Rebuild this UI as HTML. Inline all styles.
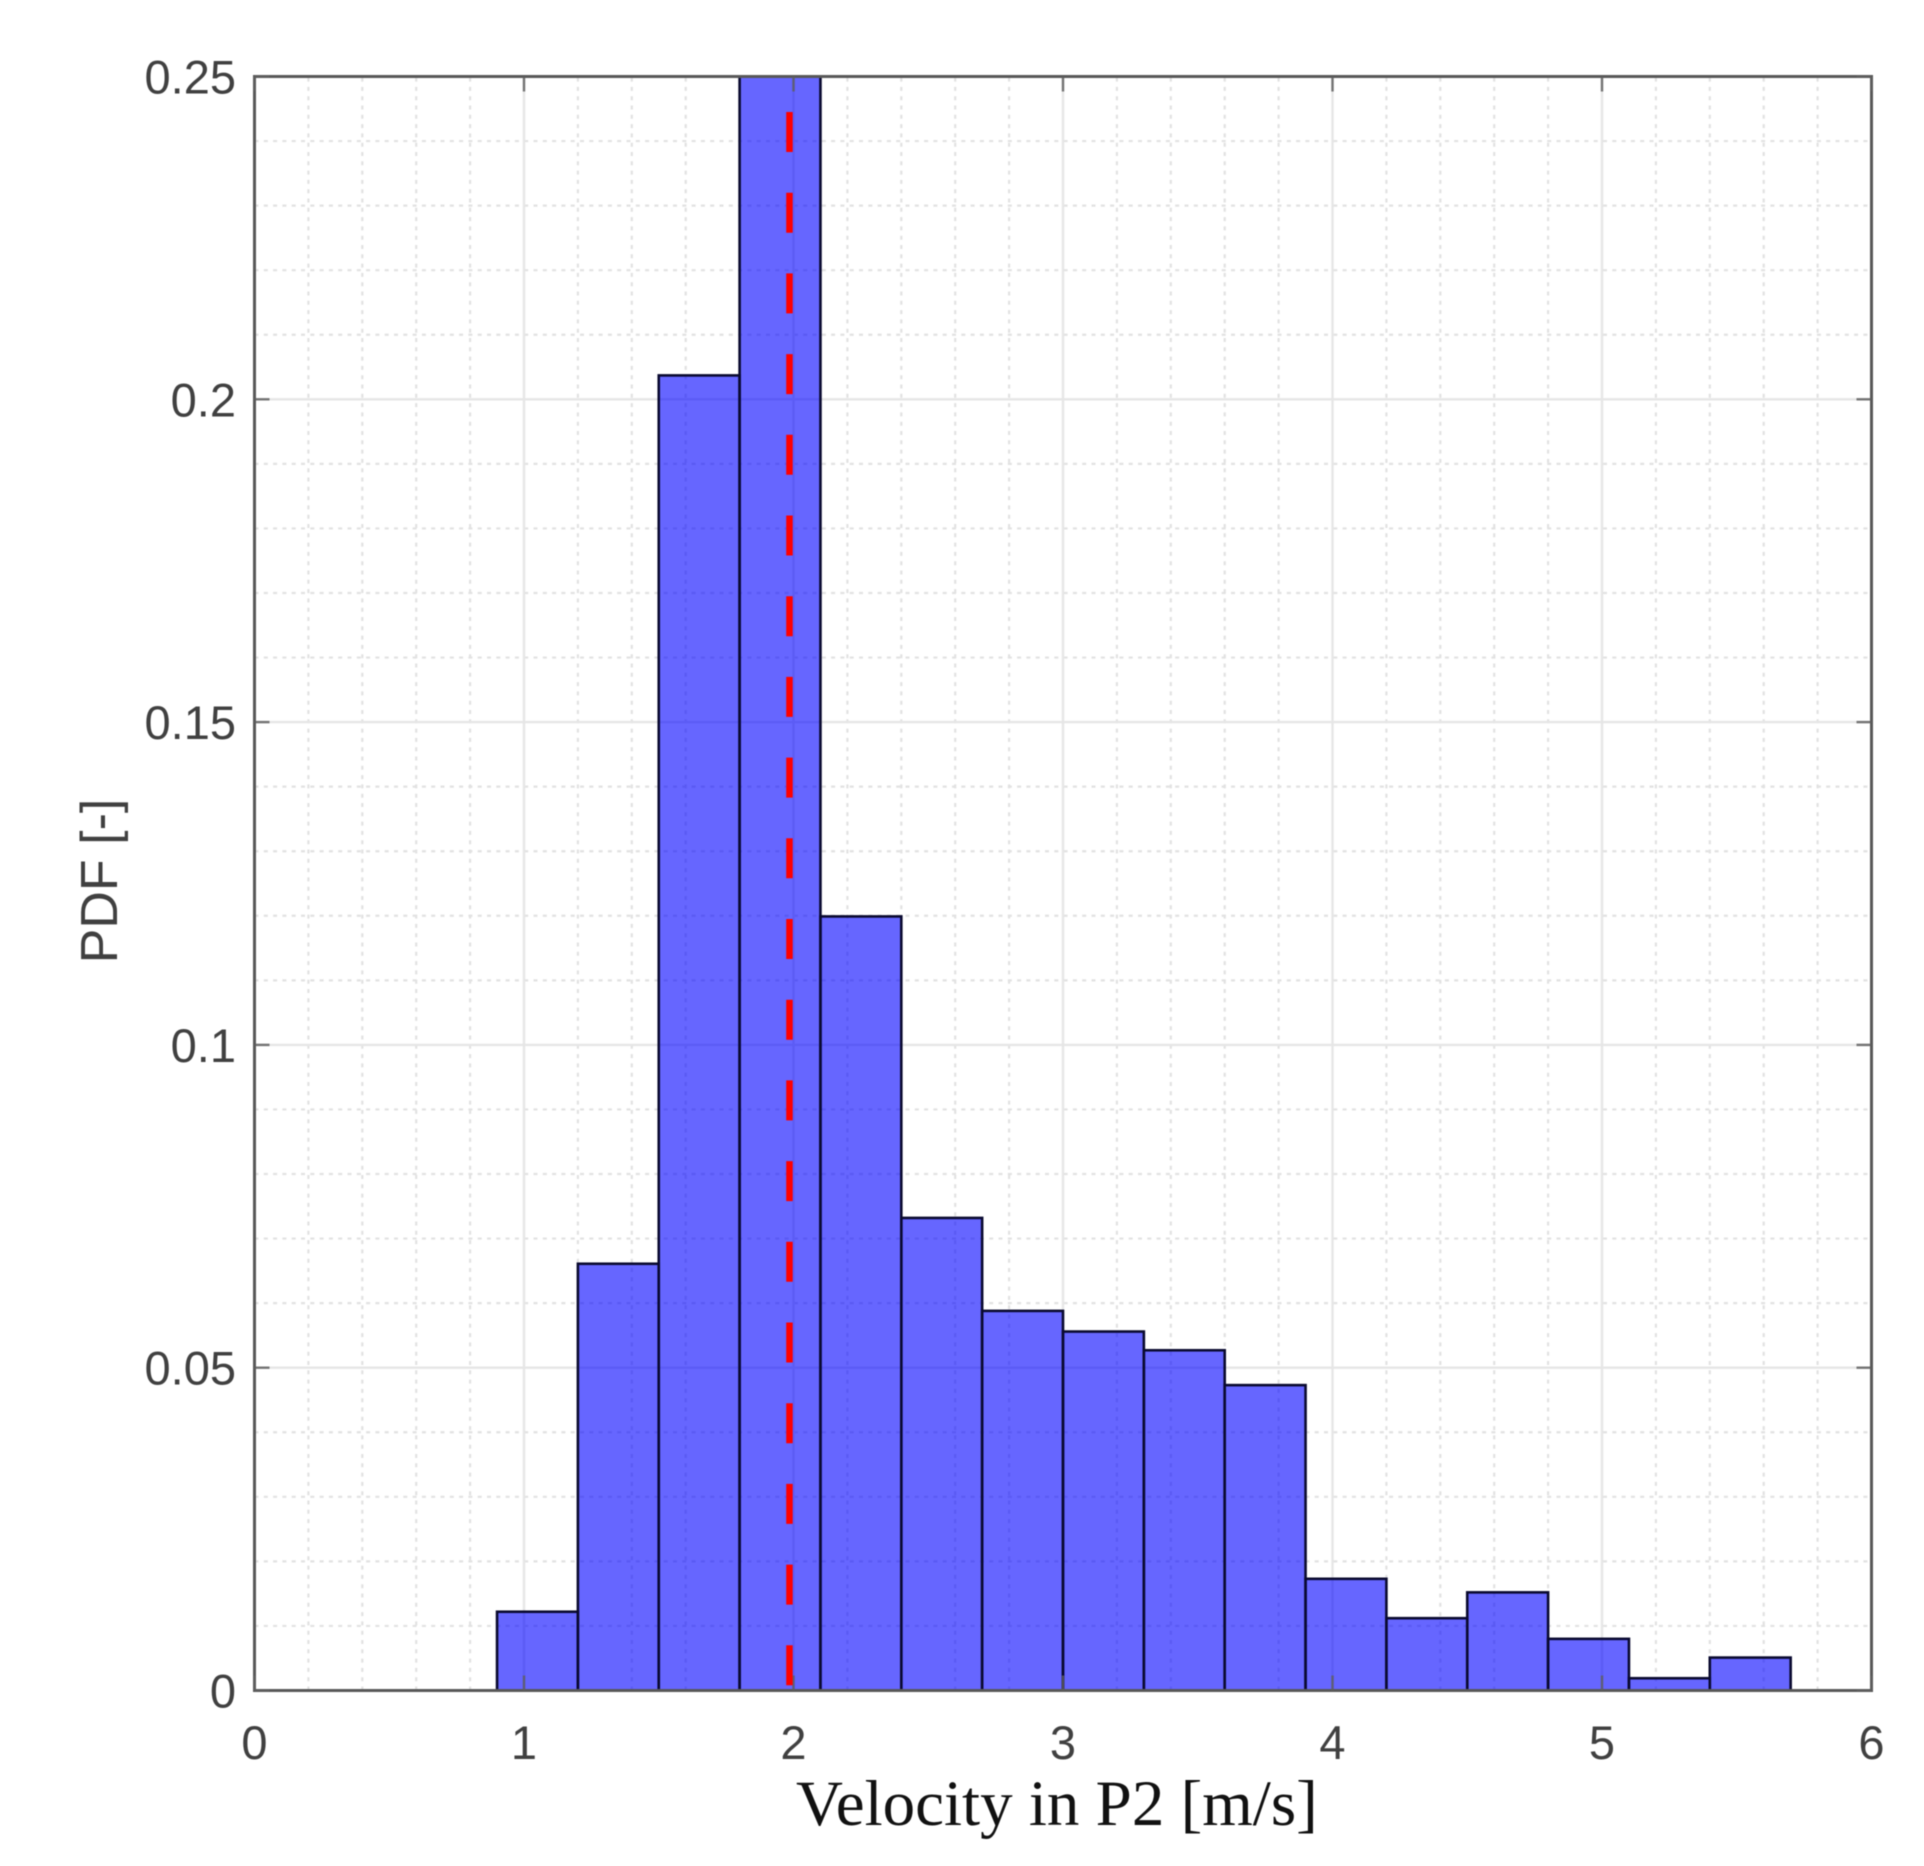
<!DOCTYPE html>
<html lang="en">
<head>
<meta charset="utf-8">
<title>Velocity in P2 PDF histogram</title>
<style>
html,body{margin:0;padding:0;background:#fff;}
body{width:1924px;height:1866px;overflow:hidden;}
svg{display:block;filter:blur(0.5px);}
text{font-family:"Liberation Sans",sans-serif;fill:#404040;}
</style>
</head>
<body>
<svg id="chart" xmlns="http://www.w3.org/2000/svg" width="1924" height="1866" viewBox="0 0 1924 1866"></svg>
<script>
const binEdges = [0.9, 1.2, 1.5, 1.8, 2.1, 2.4, 2.7, 3.0, 3.3, 3.6, 3.9, 4.2, 4.5, 4.8, 5.1, 5.4, 5.7];
const pdfValues = [0.0122, 0.0661, 0.2037, 0.2522, 0.1199, 0.0732, 0.0588, 0.0556, 0.0527, 0.0473, 0.0173, 0.0112, 0.0152, 0.0080, 0.0019, 0.0051];
const xTickValues = [0, 1, 2, 3, 4, 5, 6];
const xTickLabels = ['0', '1', '2', '3', '4', '5', '6'];
const yTickValues = [0, 0.05, 0.1, 0.15, 0.2, 0.25];
const yTickLabels = ['0', '0.05', '0.1', '0.15', '0.2', '0.25'];
const xMinorTicks = [0.2, 0.4, 0.6, 0.8, 1.2, 1.4, 1.6, 1.8, 2.2, 2.4, 2.6, 2.8, 3.2, 3.4, 3.6, 3.8, 4.2, 4.4, 4.6, 4.8, 5.2, 5.4, 5.6, 5.8];
const yMinorTicks = [0.01, 0.02, 0.03, 0.04, 0.06, 0.07, 0.08, 0.09, 0.11, 0.12, 0.13, 0.14, 0.16, 0.17, 0.18, 0.19, 0.21, 0.22, 0.23, 0.24];
const xDomain = [0, 6];
const yDomain = [0, 0.25];
const meanVelocity = 1.985;
const meanLineRange = [0.0008, 0.2445];

const plotLeft = 254.5, plotRight = 1871.5, plotTop = 76.5, plotBottom = 1690.5;
const NS = 'http://www.w3.org/2000/svg';
const svg = document.getElementById('chart');

function xScale(v) { return plotLeft + (v - xDomain[0]) / (xDomain[1] - xDomain[0]) * (plotRight - plotLeft); }
function yScale(v) { return plotBottom - (v - yDomain[0]) / (yDomain[1] - yDomain[0]) * (plotBottom - plotTop); }
function make(tag, attrs, parent) {
  const el = document.createElementNS(NS, tag);
  for (const k in attrs) el.setAttribute(k, attrs[k]);
  parent.appendChild(el);
  return el;
}

const defs = make('defs', {}, svg);
const clip = make('clipPath', { id: 'plot-clip' }, defs);
make('rect', { x: plotLeft, y: plotTop, width: plotRight - plotLeft, height: plotBottom - plotTop }, clip);

const bg = make('rect', { x: plotLeft, y: plotTop, width: plotRight - plotLeft, height: plotBottom - plotTop, fill: '#fff' }, svg);



const gridGroup = make('g', {}, svg);



xMinorTicks.forEach(function (v) {
  const l = make('line', { x1: xScale(v), x2: xScale(v), y1: plotBottom, y2: plotTop, stroke: '#e2e2e2', 'stroke-width': 2.2, 'stroke-dasharray': '4 5.3' }, gridGroup);
  
  
});
yMinorTicks.forEach(function (v) {
  const l = make('line', { x1: plotLeft, x2: plotRight, y1: yScale(v), y2: yScale(v), stroke: '#e2e2e2', 'stroke-width': 2.2, 'stroke-dasharray': '4 5.3' }, gridGroup);
  
  
});
xTickValues.slice(1, -1).forEach(function (v) {
  const l = make('line', { x1: xScale(v), x2: xScale(v), y1: plotTop, y2: plotBottom, stroke: '#e6e6e6', 'stroke-width': 2.4 }, gridGroup);
  
  
});
yTickValues.slice(1, -1).forEach(function (v) {
  const l = make('line', { x1: plotLeft, x2: plotRight, y1: yScale(v), y2: yScale(v), stroke: '#e6e6e6', 'stroke-width': 2.4 }, gridGroup);
  
  
});

const barGroup = make('g', { 'clip-path': 'url(#plot-clip)' }, svg);


pdfValues.forEach(function (v, i) {
  const x0 = xScale(binEdges[i]), x1 = xScale(binEdges[i + 1]);
  const y = yScale(v);
  const r = make('rect', { x: x0, y: y, width: x1 - x0, height: plotBottom - y, fill: 'rgb(0,0,255)', 'fill-opacity': 0.6, stroke: '#0a0a30', 'stroke-width': 2.6 }, barGroup);
  
  
});

const axisGroup = make('g', {}, svg);


const box = make('rect', { x: plotLeft, y: plotTop, width: plotRight - plotLeft, height: plotBottom - plotTop, fill: 'none', stroke: '#585858', 'stroke-width': 3 }, axisGroup);



const tickLen = 15;
xTickValues.forEach(function (v, i) {
  const x = xScale(v);
  const b = make('line', { x1: x, x2: x, y1: plotBottom, y2: plotBottom - tickLen, stroke: '#5e5e5e', 'stroke-width': 2.4, 'stroke-opacity': 0.85 }, axisGroup);
  
  
  const t = make('line', { x1: x, x2: x, y1: plotTop, y2: plotTop + tickLen, stroke: '#5e5e5e', 'stroke-width': 2.4, 'stroke-opacity': 0.85 }, axisGroup);
  
  
  const lab = make('text', { x: x, y: 1759, 'text-anchor': 'middle', 'font-size': 47 }, svg);
  lab.textContent = xTickLabels[i];
  
  
});
yTickValues.forEach(function (v, i) {
  const y = yScale(v);
  const l = make('line', { x1: plotLeft, x2: plotLeft + tickLen, y1: y, y2: y, stroke: '#5e5e5e', 'stroke-width': 2.4, 'stroke-opacity': 0.85 }, axisGroup);
  
  
  const r = make('line', { x1: plotRight, x2: plotRight - tickLen, y1: y, y2: y, stroke: '#5e5e5e', 'stroke-width': 2.4, 'stroke-opacity': 0.85 }, axisGroup);
  
  
  const lab = make('text', { x: 236, y: y + 17, 'text-anchor': 'end', 'font-size': 47 }, svg);
  lab.textContent = yTickLabels[i];
  
  
});

const meanLine = make('line', {
  x1: xScale(meanVelocity), x2: xScale(meanVelocity),
  y1: yScale(meanLineRange[1]), y2: yScale(meanLineRange[0]),
  stroke: '#ff0000', 'stroke-width': 6.5, 'stroke-dasharray': '40 40.7'
}, svg);



const xTitle = make('text', { x: 796, y: 1825, 'font-size': 65, style: 'font-family:"Liberation Serif",serif;fill:#111' }, svg);
xTitle.textContent = 'Velocity in P2 [m/s]';



const yTitle = make('text', { x: 0, y: 0, 'text-anchor': 'middle', 'font-size': 52, transform: 'translate(117,881) rotate(-90)' }, svg);
yTitle.textContent = 'PDF [-]';


</script>
</body>
</html>
